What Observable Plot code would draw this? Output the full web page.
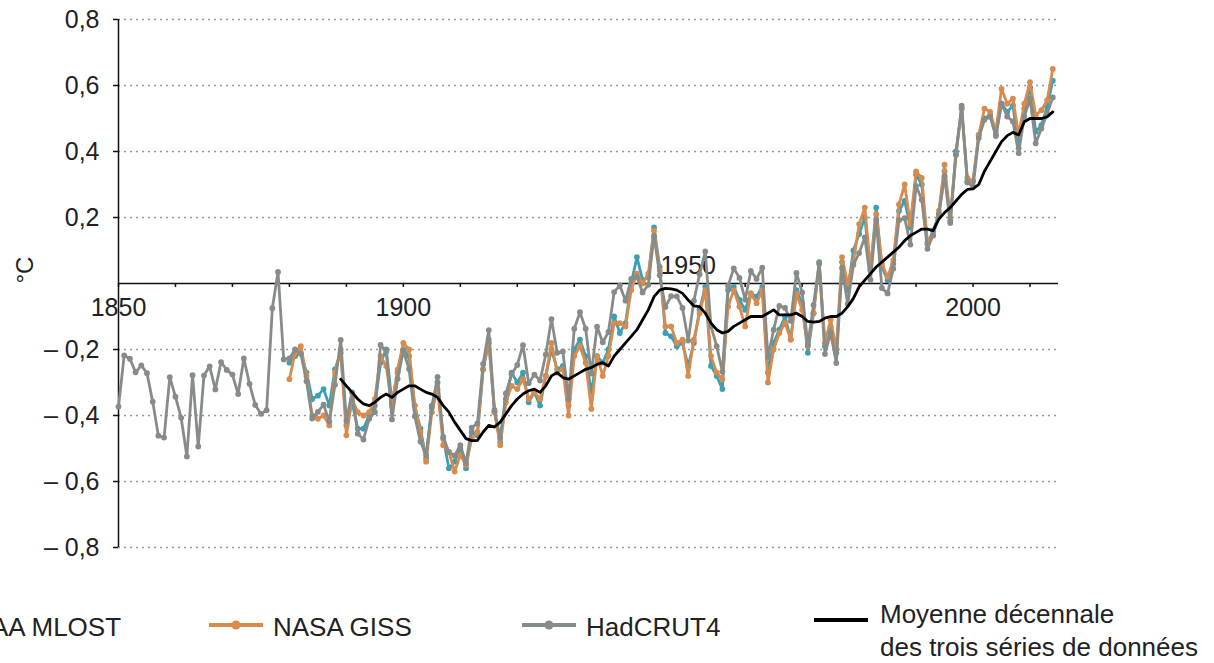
<!DOCTYPE html>
<html><head><meta charset="utf-8">
<script src="https://cdn.jsdelivr.net/npm/d3@7"></script>
<script src="https://cdn.jsdelivr.net/npm/@observablehq/plot@0.6"></script>
<style>
body{margin:0;background:#fff;font-family:"Liberation Sans",Arial,sans-serif;overflow:hidden;}
#legend{position:relative;width:1214px;height:73px;overflow:hidden;}
.txt{position:absolute;font-size:26px;color:#222;white-space:nowrap;line-height:33px;}
.sym{position:absolute;}
</style></head><body>
<div id="chart"></div>
<div id="legend"></div>
<script>
// HadCRUT4 annual anomalies (°C), one row per decade, starting 1850
const hadStart = 1850;
const hadcrut4 = [
 -0.373,-0.218,-0.228,-0.269,-0.248,-0.272,-0.358,-0.461,-0.467,-0.284,
 -0.343,-0.407,-0.524,-0.278,-0.494,-0.279,-0.251,-0.321,-0.238,-0.262,
 -0.276,-0.335,-0.227,-0.304,-0.368,-0.395,-0.384,-0.075, 0.035,-0.230,
 -0.227,-0.200,-0.213,-0.296,-0.409,-0.389,-0.367,-0.418,-0.307,-0.171,
 -0.416,-0.330,-0.455,-0.473,-0.410,-0.390,-0.186,-0.206,-0.412,-0.289,
 -0.203,-0.259,-0.402,-0.479,-0.520,-0.377,-0.283,-0.465,-0.511,-0.522,
 -0.490,-0.544,-0.437,-0.424,-0.244,-0.141,-0.383,-0.468,-0.333,-0.275,
 -0.247,-0.187,-0.302,-0.276,-0.294,-0.215,-0.108,-0.210,-0.206,-0.350,
 -0.137,-0.087,-0.137,-0.273,-0.131,-0.178,-0.147,-0.026,-0.006,-0.052,
  0.014, 0.020,-0.027,-0.004, 0.144, 0.025,-0.071,-0.038,-0.039,-0.074,
 -0.173,-0.052, 0.028, 0.097,-0.129,-0.190,-0.267,-0.007, 0.046, 0.017,
 -0.049, 0.038, 0.014, 0.048,-0.223,-0.140,-0.068,-0.074,-0.113, 0.032,
 -0.027,-0.186,-0.065, 0.062,-0.214,-0.149,-0.241, 0.047,-0.062, 0.057,
  0.092, 0.140, 0.011, 0.194,-0.014,-0.030, 0.045, 0.192, 0.198, 0.118,
  0.296, 0.254, 0.105, 0.148, 0.208, 0.325, 0.183, 0.390, 0.539, 0.306,
  0.294, 0.441, 0.496, 0.505, 0.447, 0.545, 0.506, 0.491, 0.395, 0.506,
  0.560, 0.425, 0.470, 0.514, 0.564
];
// NASA GISS and NOAA MLOST, starting 1880
const seriesStart = 1880;
const nasaGiss = [
 -0.29,-0.21,-0.19,-0.28,-0.40,-0.41,-0.40,-0.43,-0.27,-0.20,
 -0.46,-0.35,-0.39,-0.40,-0.39,-0.35,-0.22,-0.25,-0.37,-0.26,
 -0.18,-0.20,-0.37,-0.45,-0.54,-0.39,-0.32,-0.49,-0.51,-0.57,
 -0.52,-0.55,-0.47,-0.45,-0.26,-0.17,-0.39,-0.49,-0.36,-0.31,
 -0.32,-0.29,-0.35,-0.33,-0.35,-0.28,-0.18,-0.27,-0.26,-0.40,
 -0.22,-0.19,-0.24,-0.38,-0.22,-0.28,-0.22,-0.12,-0.12,-0.13,
 -0.02, 0.03, 0.00, 0.03, 0.16, 0.04,-0.13,-0.13,-0.18,-0.17,
 -0.28,-0.17,-0.09,-0.02,-0.22,-0.27,-0.29,-0.07,-0.02,-0.07,
 -0.13,-0.03,-0.06,-0.02,-0.30,-0.20,-0.15,-0.12,-0.17,-0.03,
 -0.08,-0.19,-0.09, 0.06,-0.18,-0.11,-0.20, 0.08, 0.00, 0.065,
  0.18, 0.23, 0.045,0.21, 0.06, 0.02, 0.07, 0.24, 0.30, 0.18,
  0.34, 0.32, 0.125,0.145,0.22, 0.36, 0.20, 0.39, 0.53, 0.32,
  0.31, 0.45, 0.53, 0.52, 0.46, 0.59, 0.545,0.56, 0.45, 0.545,
  0.61, 0.51, 0.525,0.555,0.65
];
const noaaMlost = [
 -0.24,-0.22,-0.21,-0.27,-0.35,-0.34,-0.32,-0.37,-0.26,-0.21,
 -0.43,-0.36,-0.44,-0.44,-0.40,-0.37,-0.24,-0.20,-0.36,-0.27,
 -0.20,-0.22,-0.37,-0.44,-0.53,-0.37,-0.30,-0.47,-0.56,-0.54,
 -0.50,-0.56,-0.45,-0.46,-0.26,-0.18,-0.39,-0.48,-0.35,-0.27,
 -0.30,-0.27,-0.36,-0.33,-0.37,-0.28,-0.20,-0.26,-0.25,-0.37,
 -0.20,-0.17,-0.22,-0.33,-0.22,-0.24,-0.20,-0.10,-0.15,-0.12,
  0.00, 0.08, 0.01, 0.02, 0.17, 0.05,-0.15,-0.16,-0.19,-0.18,
 -0.25,-0.18,-0.08,-0.01,-0.25,-0.28,-0.32,-0.02,-0.01,-0.05,
 -0.08,-0.03,-0.04,-0.01,-0.27,-0.18,-0.14,-0.10,-0.17,-0.02,
 -0.06,-0.21,-0.09, 0.065,-0.19,-0.13,-0.21, 0.065,-0.02, 0.10,
  0.15, 0.20, 0.04, 0.23, 0.05, 0.01, 0.06, 0.22, 0.25, 0.17,
  0.33, 0.30, 0.12, 0.16, 0.21, 0.34, 0.19, 0.40, 0.53, 0.31,
  0.31, 0.45, 0.50, 0.51, 0.45, 0.545,0.52, 0.54, 0.41, 0.53,
  0.595,0.46, 0.48, 0.535,0.615
];
// decadal mean of the three series, starting 1889
const meanStart = 1889;
const decadalMean = [
                                                            -0.29,
 -0.31,-0.33,-0.35,-0.365,-0.37,-0.36,-0.345,-0.335,-0.345,-0.33,
 -0.32,-0.31,-0.31,-0.32,-0.33,-0.335,-0.345,-0.37,-0.39,-0.42,
 -0.445,-0.47,-0.476,-0.476,-0.45,-0.43,-0.435,-0.42,-0.395,-0.37,
 -0.35,-0.335,-0.325,-0.32,-0.33,-0.31,-0.28,-0.27,-0.285,-0.29,
 -0.28,-0.27,-0.26,-0.255,-0.245,-0.24,-0.25,-0.22,-0.20,-0.18,
 -0.16,-0.14,-0.11,-0.08,-0.04,-0.02,-0.015,-0.016,-0.02,-0.03,
 -0.05,-0.068,-0.07,-0.09,-0.12,-0.14,-0.15,-0.145,-0.13,-0.12,
 -0.11,-0.10,-0.10,-0.10,-0.09,-0.08,-0.095,-0.095,-0.095,-0.09,
 -0.10,-0.115,-0.117,-0.115,-0.105,-0.10,-0.10,-0.09,-0.07,-0.045,
 -0.01, 0.01, 0.03, 0.05, 0.065, 0.08, 0.095, 0.11, 0.13, 0.145,
  0.155, 0.165, 0.165, 0.16, 0.195, 0.215, 0.23, 0.25, 0.27, 0.285,
  0.287, 0.30, 0.34, 0.37, 0.40, 0.43, 0.448, 0.458, 0.45, 0.49,
  0.50, 0.50, 0.50, 0.505, 0.52
];
const yTicks = [-0.8,-0.6,-0.4,-0.2,0.2,0.4,0.6,0.8];
const yearLabelsBelow = [1850, 1900, 2000];
const yearLabelsAbove = [1950];
const decadeTicks = [1850,1860,1870,1880,1890,1900,1910,1920,1930,1940,1950,1960,1970,1980,1990,2000,2010];
const seriesNames = ["NOAA MLOST", "NASA GISS", "HadCRUT4", "Moyenne décennale\ndes trois séries de données"];
const seriesColors = ["#3d9fb4", "#d98a4d", "#878c89", "#000000"];

const rows = (arr, start) => arr.map((v, i) => ({year: start + i, value: v}));
const noaa = rows(noaaMlost, seriesStart);
const nasa = rows(nasaGiss, seriesStart);
const had = rows(hadcrut4, hadStart);
const mean = rows(decadalMean, meanStart);

const fmt = v => (v < 0 ? "– " : "") + String(Math.abs(v)).replace(".", ",");
const font = "'Liberation Sans', Arial, sans-serif";

const chart = Plot.plot({
  width: 1214, height: 590,
  marginLeft: 118, marginRight: 156, marginTop: 19, marginBottom: 43,
  x: {domain: [1850, 2015], axis: null},
  y: {domain: [-0.8, 0.8], axis: null},
  style: {fontFamily: font, color: "#222", background: "#fff", overflow: "visible"},
  marks: [
    Plot.ruleY(yTicks, {stroke: "#999", strokeDasharray: "2,4", strokeWidth: 1.6}),
    Plot.axisY(yTicks, {tickFormat: fmt, tickSize: 5, tickPadding: 14, fontSize: 25, stroke: "#111", strokeWidth: 1.5, fill: "#222", label: null}),
    Plot.ruleX([1850], {y1: -0.8, y2: 0.8, stroke: "#111", strokeWidth: 1.5}),
    Plot.ruleY([0], {stroke: "#111", strokeWidth: 1.5}),
    Plot.ruleX(decadeTicks, {y1: 0, y2: -0.012, stroke: "#111", strokeWidth: 1.5}),
    Plot.text(yearLabelsBelow, {x: d => d, y: 0, text: d => String(d), dy: 24, fontSize: 25, fill: "#222"}),
    Plot.text(yearLabelsAbove, {x: d => d, y: 0, text: d => String(d), dy: -18, fontSize: 25, fill: "#222"}),
    Plot.text(["°C"], {frameAnchor: "left", dx: -93, rotate: -90, fontSize: 24, fill: "#222"}),
    Plot.line(noaa, {x: "year", y: "value", stroke: seriesColors[0], strokeWidth: 2.8}),
    Plot.dot(noaa, {x: "year", y: "value", r: 2.9, fill: seriesColors[0]}),
    Plot.line(nasa, {x: "year", y: "value", stroke: seriesColors[1], strokeWidth: 2.8}),
    Plot.dot(nasa, {x: "year", y: "value", r: 2.9, fill: seriesColors[1]}),
    Plot.line(had, {x: "year", y: "value", stroke: seriesColors[2], strokeWidth: 2.8}),
    Plot.dot(had, {x: "year", y: "value", r: 2.9, fill: seriesColors[2]}),
    Plot.line(mean, {x: "year", y: "value", stroke: seriesColors[3], strokeWidth: 2.8})
  ]
});
document.getElementById("chart").append(chart);

// legend
const legend = document.getElementById("legend");
const symX = [-114, 207, 520, 812];
const txtX = [-48, 273, 586, 880];
seriesNames.forEach((name, i) => {
  const isMean = i === 3;
  const svg = `<svg class="sym" style="left:${symX[i]}px;top:${isMean ? 22 : 27}px" width="60" height="16">
    <line x1="2" y1="8" x2="56" y2="8" stroke="${seriesColors[i]}" stroke-width="4"/>
    ${isMean ? "" : `<circle cx="29" cy="8" r="4.5" fill="${seriesColors[i]}"/>`}
  </svg>`;
  legend.insertAdjacentHTML("beforeend", svg);
  const t = document.createElement("div");
  t.className = "txt";
  t.style.left = txtX[i] + "px";
  t.style.top = (isMean ? 8 : 21) + "px";
  t.innerHTML = name.split("\n").join("<br>");
  legend.append(t);
});
</script>
</body></html>
